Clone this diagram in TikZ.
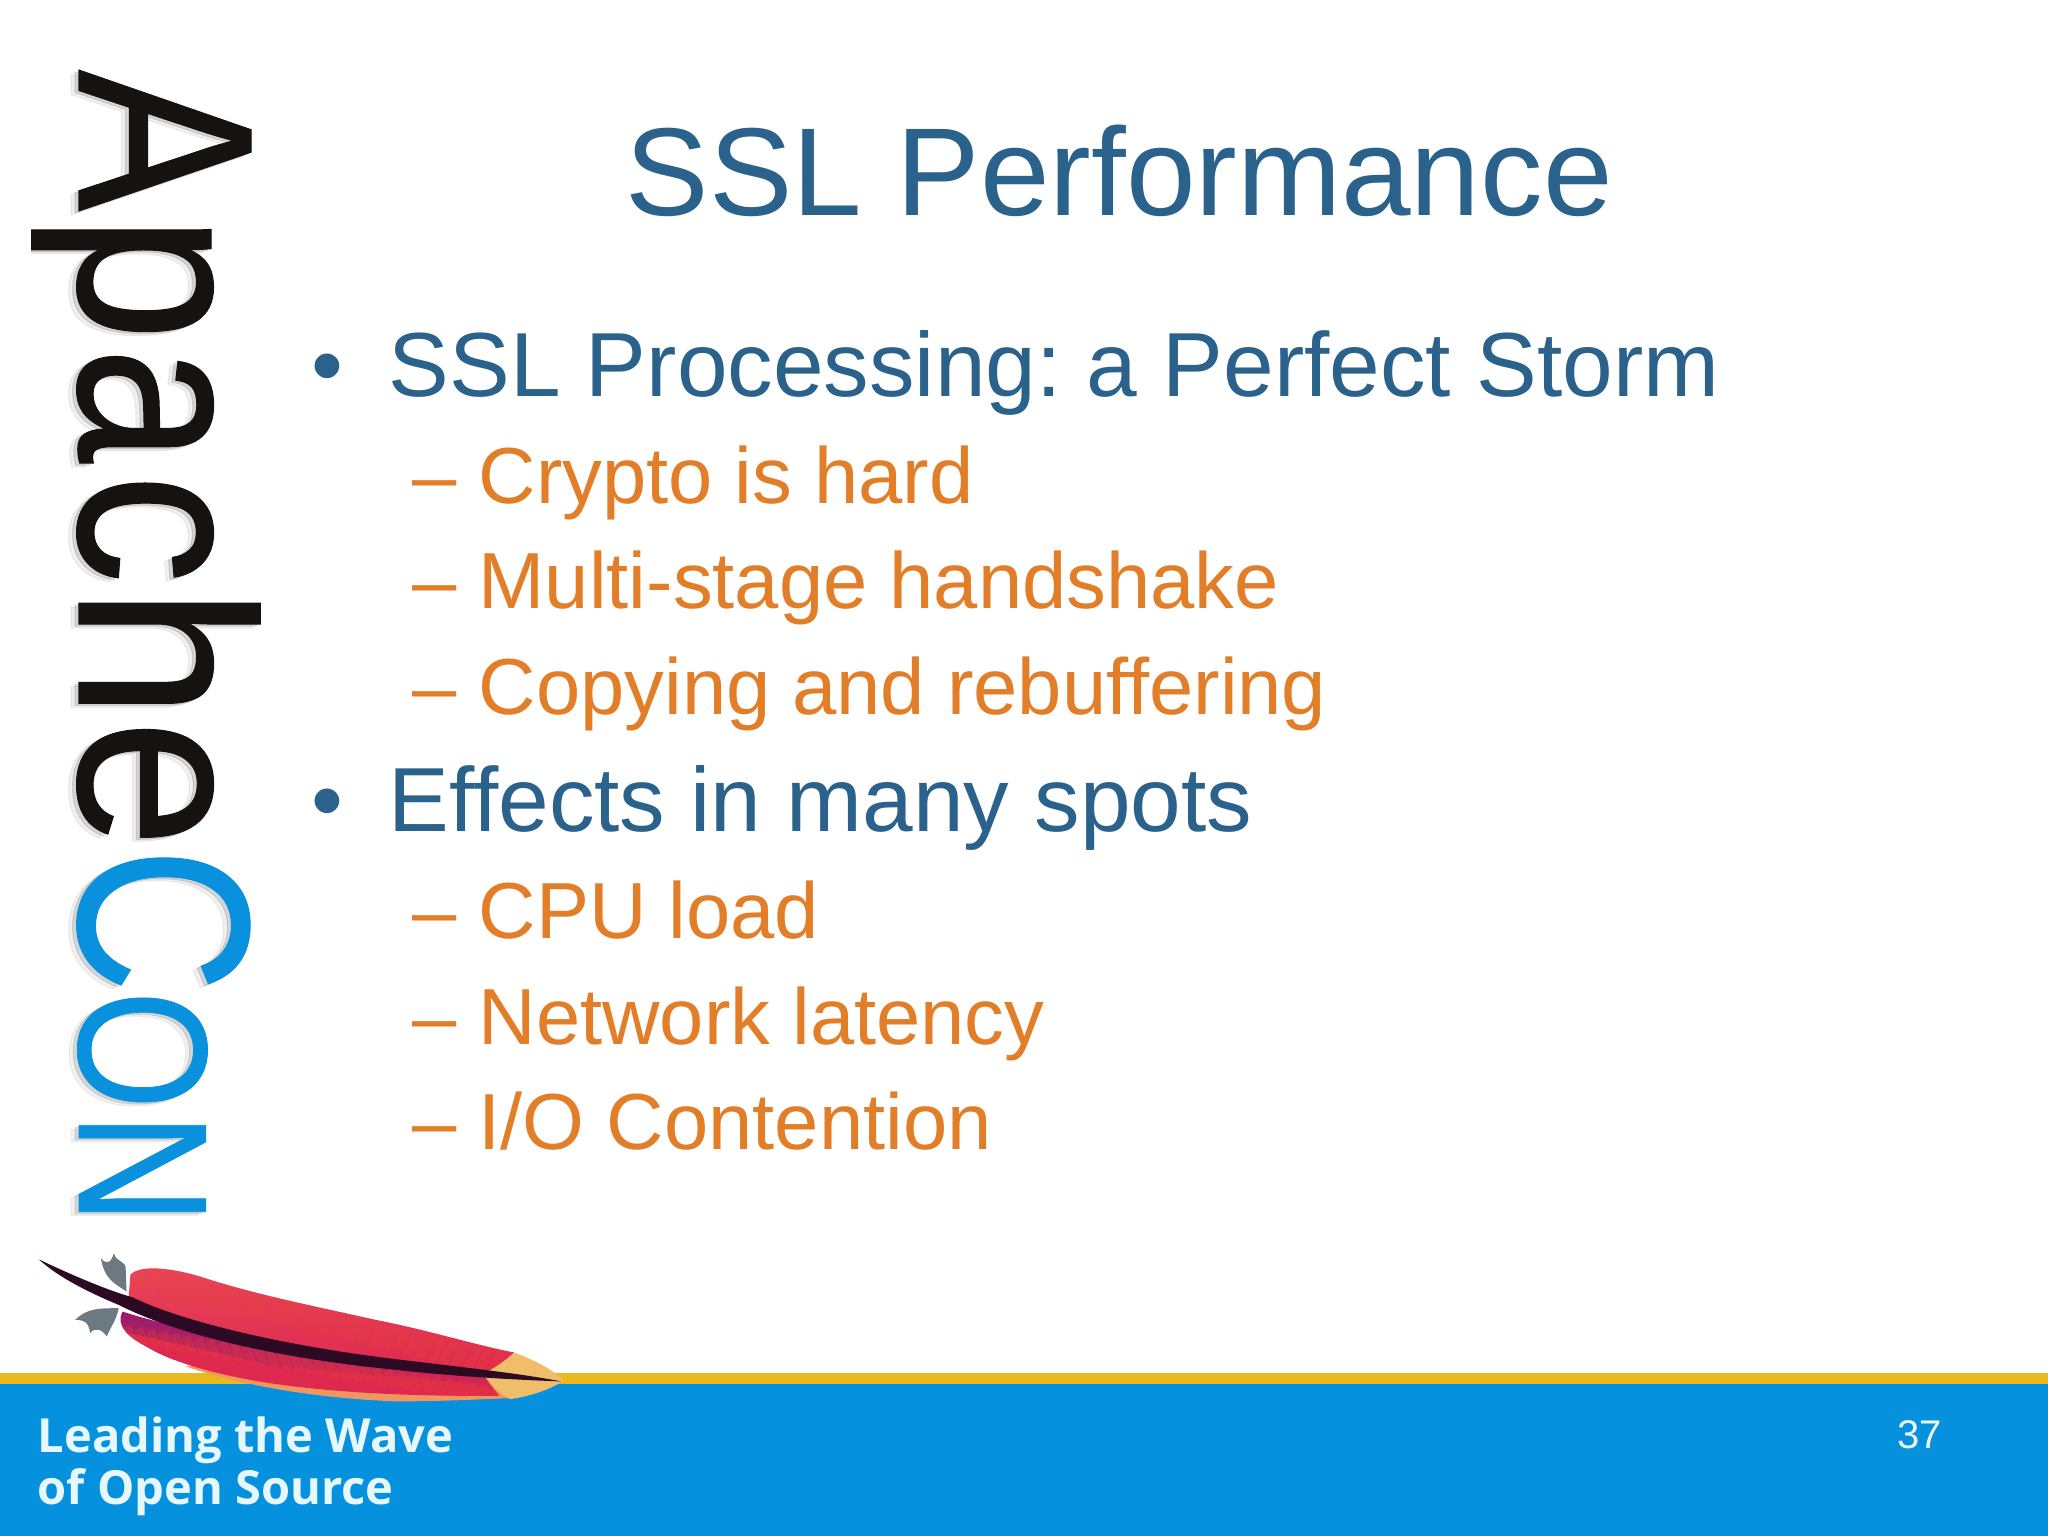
\documentclass[tikz,border=0pt]{standalone}
\usepackage{fontspec}
\setmainfont{Liberation Sans}
\newfontfamily\footfont{Open Sans}[BoldFont={Open Sans Bold}]
\newfontfamily\logofont{Liberation Sans}[FakeBold=0.45]
\usetikzlibrary{shadings}
\definecolor{titleblue}{RGB}{42,98,140}
\definecolor{subor}{RGB}{226,125,40}
\definecolor{barblue}{RGB}{5,145,221}
\definecolor{baryel}{RGB}{232,186,30}
\definecolor{logoblue}{RGB}{10,145,222}
\definecolor{logoblack}{RGB}{22,18,18}
\definecolor{fred}{RGB}{222,40,78}
\definecolor{fpink}{RGB}{232,70,90}
\definecolor{ffringe}{RGB}{240,150,95}
\definecolor{ftip}{RGB}{240,190,105}
\definecolor{fdark}{RGB}{45,10,35}
\newcommand{\pxfont}[1]{\fontsize{\fpeval{#1*0.2845}}{\fpeval{#1*0.34}}\selectfont}
\tikzset{
  titletext/.style={anchor=base west,inner sep=0pt,text=titleblue,font=\frenchspacing\pxfont{125}},
  levelone/.style={anchor=base west,inner sep=0pt,text=titleblue,font=\frenchspacing\pxfont{91}},
  leveltwo/.style={anchor=base west,inner sep=0pt,text=subor,font=\frenchspacing\pxfont{79.5}},
  foottext/.style={anchor=base west,inner sep=0pt,text=white!90!cyan,font=\footfont\bfseries\pxfont{47}},
  logoletter/.style={anchor=base west,inner sep=0pt,rotate=-90},
  barbline/.style={line width=2.5pt,opacity=.3},
}
\newcommand{\logochar}[6]{% name, y, x-scale, em px, colour, char
  \node[logoletter,xscale=#3,text=black,opacity=.06,font=\logofont\pxfont{#4}] (#1t) at (71,#2+4) {#6};
  \node[logoletter,xscale=#3,text=black,opacity=.11,font=\logofont\pxfont{#4}] (#1s) at (75,#2+2) {#6};
  \node[logoletter,xscale=#3,text=#5,font=\logofont\pxfont{#4}] (#1) at (79,#2) {#6};
}
\begin{document}
\begin{tikzpicture}[x=0.01cm,y=-0.01cm]
\useasboundingbox (0,0) rectangle (2048,1536);
\fill[white] (0,0) rectangle (2048,1536);
% footer
\fill[baryel] (0,1373) rectangle (2048,1384);
\fill[barblue] (0,1384) rectangle (2048,1536);
% logo
\logochar{la}{69}{.85}{250}{logoblack}{A}
\logochar{lp}{214}{.91}{250}{logoblack}{p}
\logochar{lb}{347}{.83}{250}{logoblack}{a}
\logochar{lc}{473}{.88}{250}{logoblack}{c}
\logochar{lh}{586}{.95}{250}{logoblack}{h}
\logochar{le}{719}{.92}{250}{logoblack}{e}
\logochar{lC}{847}{.82}{245}{logoblue}{C}
\logochar{lO}{990}{.83}{184}{logoblue}{O}
\logochar{lN}{1112}{.84}{184}{logoblue}{N}
\fill[white] (0,215) rectangle (31,255);
% feather (coordinates of a crop at y=1220)
\begin{scope}[shift={(0,1220)},x=0.003954cm,y=-0.00333333cm]
 \fill[gray!75!cyan!70!black] (320,215) .. controls (290,190) and (265,180) .. (255,115) .. controls (270,135) and (280,130) .. (288,100) .. controls (295,130) and (320,120) .. (318,150) -- cycle;
 \fill[gray!75!cyan!70!black] (300,265) .. controls (250,265) and (220,265) .. (190,300) .. controls (215,300) and (225,310) .. (228,340) .. controls (240,320) and (260,330) .. (270,350) .. controls (280,320) and (295,300) .. (300,265) -- cycle;
 % lower fringe
 \fill[ffringe] (470,440) .. controls (620,500) and (800,535) .. (1000,545) .. controls (1100,545) and (1200,540) .. (1290,535) -- (1230,470) -- (700,390) -- cycle;
 % tip
 \fill[ftip] (1300,398) .. controls (1350,420) and (1400,450) .. (1425,483) .. controls (1390,510) and (1340,530) .. (1290,538) .. controls (1260,520) and (1240,490) .. (1222,462) .. controls (1250,440) and (1280,420) .. (1300,398) -- cycle;
 % upper vane
 \begin{scope}
  \clip (330,165) .. controls (350,135) and (430,140) .. (520,175) .. controls (650,225) and (800,260) .. (950,300) .. controls (1080,330) and (1200,375) .. (1300,398) .. controls (1280,420) and (1250,445) .. (1222,462) .. controls (1000,430) and (700,380) .. (500,310) .. controls (420,285) and (360,260) .. (325,235) -- cycle;
  \shade[top color=fpink,bottom color=fred] (300,130) rectangle (1310,470);
  \foreach \qx in {340,370,...,1280}
    \draw[barbline,fred!70!orange] (\qx,{130+0.285*(\qx-340)}) -- ++(-30,70);
 \end{scope}
 % lower vane
 \begin{scope}
  \clip (310,275) .. controls (420,320) and (800,420) .. (1222,462) .. controls (1235,490) and (1250,510) .. (1262,528) .. controls (1100,530) and (850,525) .. (640,482) .. controls (540,460) and (440,430) .. (370,380) .. controls (330,355) and (290,320) .. (310,275) -- cycle;
  \shade[top color=fred!75!blue!90!black,bottom color=fred] (290,270) -- (1270,440) -- (1270,530) -- (290,400) -- cycle;
  \fill[fred] (290,330) -- (700,440) -- (1270,500) -- (1270,530) -- (290,530) -- cycle;
  \foreach \qx in {340,370,...,1280}
    \draw[barbline,fred!70!orange] (\qx,{370+0.2*(\qx-340)}) -- ++(-20,-50);
 \end{scope}
 % quill
 \fill[fdark] (98,118) .. controls (180,165) and (280,215) .. (335,232) .. controls (450,300) and (700,375) .. (1000,418) .. controls (1150,440) and (1300,458) .. (1420,485) .. controls (1300,480) and (1150,470) .. (1000,450) .. controls (700,415) and (450,345) .. (300,255) .. controls (230,220) and (150,175) .. (98,118) -- cycle;
\end{scope}
% footer text
\node[foottext] (lead) at (37,1452) {Leading the Wave};
\node[foottext] (open) at (37,1504) {of Open Source};
\node[anchor=base west,inner sep=0pt,text=white!92!cyan,font=\pxfont{40}] (num) at (1897,1448) {37};
% slide text
\node[titletext] (title) at (625,215) {SSL Performance};
\node[levelone] (b1) at (311,396) {•};
\node[levelone] (t1) at (388,396) {SSL Processing: a Perfect Storm};
\node[leveltwo] (d1) at (412,503) {–};
\node[leveltwo] (s1) at (478,503) {Crypto is hard};
\node[leveltwo] (d2) at (412,608) {–};
\node[leveltwo] (s2) at (478,608) {Multi-stage handshake};
\node[leveltwo] (d3) at (412,714) {–};
\node[leveltwo] (s3) at (478,714) {Copying and rebuffering};
\node[levelone] (b2) at (311,831) {•};
\node[levelone] (t2) at (388,831) {Effects in many spots};
\node[leveltwo] (d4) at (412,938) {–};
\node[leveltwo] (s4) at (478,938) {CPU load};
\node[leveltwo] (d5) at (412,1044) {–};
\node[leveltwo] (s5) at (478,1044) {Network latency};
\node[leveltwo] (d6) at (412,1149) {–};
\node[leveltwo] (s6) at (478,1149) {I/O Contention};
\end{tikzpicture}
\end{document}
